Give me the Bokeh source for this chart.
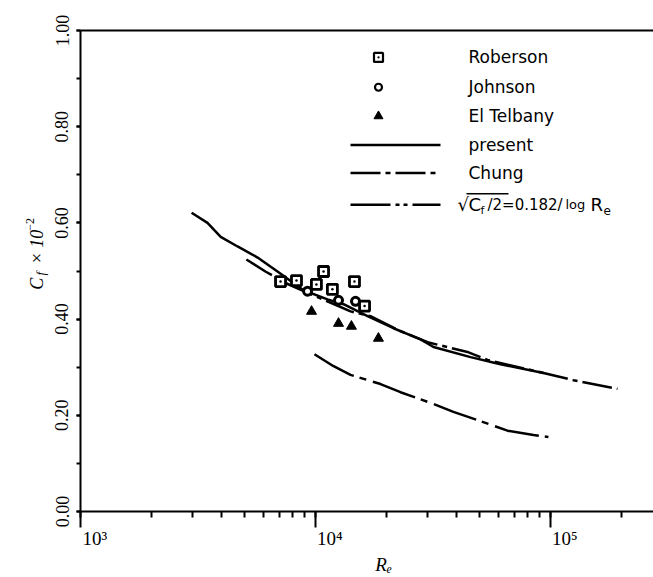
import math
from bokeh.plotting import figure
from bokeh.models import (LogAxis, LinearAxis, FixedTicker, SingleIntervalTicker, LogTicker,
                          PrintfTickFormatter, CustomJSTickFormatter, Label, Range1d)
from bokeh.core.properties import value
from bokeh.embed import file_html
from bokeh.resources import INLINE

# ---------------- data ----------------
present_re = [2970, 3470, 3950, 4660, 5670, 6890, 8890, 11250, 13160, 16650,
              21470, 27990, 31780, 45690, 61260, 93370]
present_cf = [0.621, 0.600, 0.571, 0.551, 0.528, 0.499, 0.460, 0.441, 0.431, 0.406,
              0.381, 0.358, 0.342, 0.321, 0.306, 0.288]

formula_re = [5080, 6120, 7530, 14100, 17140, 23000, 29990, 44800, 53970, 93370,
              125300, 192800]
formula_cf = [0.524, 0.499, 0.474, 0.416, 0.406, 0.375, 0.352, 0.331, 0.315, 0.288,
              0.273, 0.255]

chung_re = [9900, 11940, 14100, 18910, 23000, 30830, 38630, 50340, 65600, 84700, 98000]
chung_cf = [0.327, 0.302, 0.284, 0.265, 0.248, 0.226, 0.207, 0.188, 0.168, 0.159, 0.155]

roberson_re = [7100, 8300, 10820, 10090, 11800, 14650, 16170]
roberson_cf = [0.478, 0.480, 0.499, 0.472, 0.462, 0.478, 0.427]

johnson_re = [9250, 12530, 14800]
johnson_cf = [0.458, 0.439, 0.437]

telbany_re = [9620, 12530, 14220, 18530]
telbany_cf = [0.416, 0.391, 0.385, 0.360]

xtick_vals = [1000, 10000, 100000]
xtick_labels = ["10\u00b3", "10\u2074", "10\u2075"]

legend_names = ["Roberson", "Johnson", "El Telbany", "present", "Chung"]

# ---------------- layout ----------------
W, H = 653, 577
L, T, B = 80, 30, 513
DEC = 235.0                      # pixels per decade
X_MIN = 1e3
X_MAX = 10 ** (3 + (W - L) / DEC)
NB = "\u00a0"


def xd(px):
    return 10 ** (3 + (px - L) / DEC)


def yd(py):
    return (B - py) / (B - T)


p = figure(width=W, height=H, x_axis_type="log", y_axis_type=None,
           x_range=Range1d(X_MIN, X_MAX), y_range=Range1d(0, 1.0),
           output_backend="svg", toolbar_location=None,
           min_border_left=L, min_border_right=0, min_border_top=T,
           min_border_bottom=H - B)
p.outline_line_color = None
p.grid.visible = False
p.background_fill_color = "white"
p.border_fill_color = "white"

# x axis (bottom)
xa = p.xaxis[0]
xa.ticker = LogTicker(num_minor_ticks=10)
xa.formatter = CustomJSTickFormatter(
    args=dict(vals=xtick_vals, labs=[NB * 6 + t for t in xtick_labels]),
    code="""
        for (let i = 0; i < vals.length; i++) {
            if (Math.abs(Math.log10(tick) - Math.log10(vals[i])) < 1e-6) { return labs[i]; }
        }
        return '';
    """)
xa.major_label_text_font = "Liberation Serif"
xa.major_label_text_font_size = "19px"
xa.major_label_text_color = "black"
xa.major_label_standoff = 0
xa.axis_line_width = 2
xa.axis_line_color = "black"
xa.major_tick_line_color = "black"
xa.major_tick_line_width = 2
xa.major_tick_out = 16
xa.major_tick_in = 0
xa.minor_tick_line_color = "black"
xa.minor_tick_line_width = 2
xa.minor_tick_out = 6
xa.minor_tick_in = 0
xa.axis_label = NB * 7 + "R\u2091"
xa.axis_label_text_font = "Liberation Serif"
xa.axis_label_text_font_style = "italic"
xa.axis_label_text_font_size = "19px"
xa.axis_label_text_color = "black"
xa.axis_label_standoff = 2

# y axis (left)
ya = LinearAxis(ticker=SingleIntervalTicker(interval=0.2, num_minor_ticks=2),
                formatter=PrintfTickFormatter(format="%.2f"))
ya.axis_line_width = 2
ya.major_tick_line_width = 2
ya.major_tick_out = 4
ya.major_tick_in = 0
ya.minor_tick_line_width = 2
ya.minor_tick_out = 4
ya.minor_tick_in = 0
ya.major_label_orientation = "vertical"
ya.major_label_text_font = "Liberation Serif"
ya.major_label_text_font_size = "18px"
ya.major_label_text_color = "black"
ya.major_label_standoff = 8
ya.axis_label = NB * 5 + "C" + NB * 3 + "\u00d7" + NB + "10"
ya.axis_label_text_font = "Liberation Serif"
ya.axis_label_text_font_style = "italic"
ya.axis_label_text_font_size = "18px"
ya.axis_label_text_color = "black"
ya.axis_label_standoff = 6
p.add_layout(ya, "left")

# top frame line
top = LogAxis(ticker=FixedTicker(ticks=[]), axis_line_width=2,
              major_tick_line_color=None, minor_tick_line_color=None)
p.add_layout(top, "above")

# ---------------- curves ----------------
p.line(present_re, present_cf, line_color="black", line_width=2.5)
p.line(formula_re, formula_cf, line_color="black", line_width=2.5,
       line_dash="30 5 5 5")
p.line(chung_re, chung_cf, line_color="black", line_width=2.5,
       line_dash="45 6 7 7")

# ---------------- markers ----------------
p.scatter(roberson_re, roberson_cf, marker="square_dot", size=10,
          line_color="black", line_width=2.8, fill_color="white")
p.scatter(johnson_re, johnson_cf, marker="circle", size=8,
          line_color="black", line_width=3, fill_color="white")
p.scatter(telbany_re, telbany_cf, marker="triangle", size=10,
          line_color="black", line_width=1, fill_color="black")

# ---------------- legend (hand drawn) ----------------
row_y = [57, 87, 116, 145, 173, 205]
mx = xd(378)
p.scatter([mx], [yd(row_y[0])], marker="square_dot", size=9, line_color="black",
          line_width=2.2, fill_color="white")
p.scatter([mx], [yd(row_y[1])], marker="circle", size=7, line_color="black",
          line_width=2.2, fill_color="white")
p.scatter([mx], [yd(row_y[2])], marker="triangle", size=9, line_color="black",
          line_width=1, fill_color="black")
lx0, lx1 = xd(350), xd(440)
p.line([lx0, lx1], [yd(row_y[3])] * 2, line_color="black", line_width=2.5)
p.line([lx0, lx1], [yd(row_y[4])] * 2, line_color="black", line_width=2.5,
       line_dash="30 5 5 5")
p.line([lx0, lx1], [yd(row_y[5])] * 2, line_color="black", line_width=2.5,
       line_dash="40 5 4 4 4 5")

tx = xd(468)
p.text([tx] * len(legend_names), [yd(v) for v in row_y[:5]], text=legend_names,
       text_font=value("DejaVu Sans"), text_font_size="17px",
       text_baseline="middle", text_align="left", text_color="black")

# formula label pieces
fy = yd(row_y[5])
fsub = yd(row_y[5] + 6)
pieces = [
    (457, fy, "\u221a", "18px"),
    (468, fy, "C", "18px"),
    (480, fsub, "f", "11px"),
    (487, fy, "/2=0.182/", "15px"),
    (565, fy, "log", "13px"),
    (590, fy, "R", "18px"),
    (603, fsub, "e", "12px"),
]
for px, py, txt, fs in pieces:
    p.text([xd(px)], [py], text=[txt], text_font=value("DejaVu Sans"),
           text_font_size=fs, text_baseline="middle", text_align="left",
           text_color="black")
p.line([xd(466), xd(508)], [yd(row_y[5] - 11)] * 2, line_color="black",
       line_width=1.5)

# ---------------- subscript / superscript of the y title ----------------
ang = math.pi / 2
ypieces = [
    (40, 276, "f", "13px", "italic"),
    (29, 231, "\u22122", "12px", "normal"),
]
for px, py, txt, fs, st in ypieces:
    p.add_layout(Label(x=xd(px), y=yd(py), text=txt, angle=ang,
                       text_font="Liberation Serif", text_font_style=st,
                       text_font_size=fs, text_baseline="alphabetic",
                       text_align="left", text_color="black"), "left")

open("out.html", "w").write(file_html(p, INLINE))
